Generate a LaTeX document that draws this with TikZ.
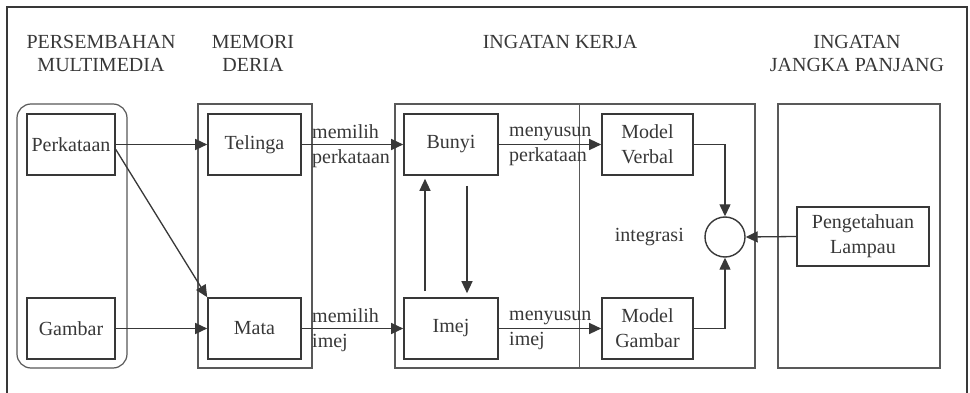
\documentclass[tikz,border=0pt]{standalone}
\usepackage{fontspec}
\setmainfont{Liberation Serif}
\usetikzlibrary{arrows.meta,calc}
\definecolor{ink}{gray}{0.22}
\definecolor{grp}{gray}{0.35}
\begin{document}
\begin{tikzpicture}[x=1pt,y=-1pt,
  every node/.style={font=\fontsize{20}{25}\selectfont, text=ink},
  boxnode/.style={draw=ink, line width=1.6pt, minimum height=61pt, inner sep=0pt, align=center},
  grpbox/.style={draw=grp, line width=1.2pt},
  arr/.style={draw=ink, line width=1.3pt, -{Triangle[length=12pt,width=11pt]}},
  lbl/.style={anchor=west, align=left, inner sep=0pt},
  head/.style={align=center, inner sep=0pt, font=\fontsize{20}{23}\selectfont}]
\useasboundingbox (0,0) rectangle (970,393);
\fill[white] (0,0) rectangle (970,393);
% outer frame
\draw[ink, line width=2.4pt] (7,393) -- (7,7) -- (967,7) -- (967,393);
% headers
\node[head] (h1) at (101,53.5) {PERSEMBAHAN\\MULTIMEDIA};
\node[head] (h2) at (253,53.5) {MEMORI\\DERIA};
\node[head] (h3) at (560,42) {INGATAN KERJA};
\node[head] (h4) at (857,53.5) {INGATAN\\JANGKA PANJANG};
% groups
\draw[grpbox, rounded corners=14pt] (17,104) rectangle (127,368);
\draw[grpbox] (198,104) rectangle (312,368);
\draw[grpbox] (395,104) rectangle (755,368);
\draw[grpbox, line width=0.8pt] (579,104) -- (579,368);
\draw[grpbox] (778,104) rectangle (940,368);
% boxes
\node[boxnode, minimum width=88pt] (perk) at (71,144.5) {Perkataan};
\node[boxnode, minimum width=88pt] (gamb) at (71,328.5) {Gambar};
\node[boxnode, minimum width=93pt] (tel) at (254.5,144.5) {Telinga};
\node[boxnode, minimum width=93pt] (mata) at (254.5,328.5) {Mata};
\node[boxnode, minimum width=94pt] (bunyi) at (451,144.5) {Bunyi};
\node[boxnode, minimum width=94pt] (imej) at (451,328.5) {Imej};
\node[boxnode, minimum width=91pt] (verb) at (647.5,144.5) {Model\\Verbal};
\node[boxnode, minimum width=91pt] (mgam) at (647.5,328.5) {Model\\Gambar};
\node[boxnode, minimum width=132pt, minimum height=59pt] (peng) at (863,236.5) {Pengetahuan\\Lampau};
\node[draw=ink, line width=1.4pt, circle, minimum size=40pt, inner sep=0pt] (integ) at (725,237) {};
\node[anchor=east, inner sep=0pt] (intl) at (684,237) {integrasi};
% labels
\node[lbl] (l1) at (312,146) {memilih\\perkataan};
\node[lbl] (l2) at (509,146) {menyusun\\perkataan};
\node[lbl] (l3) at (312,330) {memilih\\imej};
\node[lbl] (l4) at (509,330) {menyusun\\imej};
% connectors
\draw[arr] (perk.east) -- (tel.west);
\draw[arr] ([yshift=-5pt]perk.east) -- (mata.north west);
\draw[arr] (gamb.east) -- (mata.west);
\draw[arr] (tel.east) -- (bunyi.west);
\draw[arr] (mata.east) -- (imej.west);
\draw[arr] (bunyi.east) -- (verb.west);
\draw[arr] (imej.east) -- (mgam.west);
\draw[arr] ([xshift=-26pt,yshift=6pt]imej.north) -- ([xshift=-26pt,yshift=-3pt]bunyi.south);
\draw[arr] ([xshift=16pt,yshift=-10pt]bunyi.south) -- ([xshift=16pt,yshift=4pt]imej.north);
\draw[arr] (verb.east) -| (integ.north);
\draw[arr] (mgam.east) -| (integ.south);
\draw[arr] (peng.west) -- (integ.east);
\end{tikzpicture}
\end{document}
